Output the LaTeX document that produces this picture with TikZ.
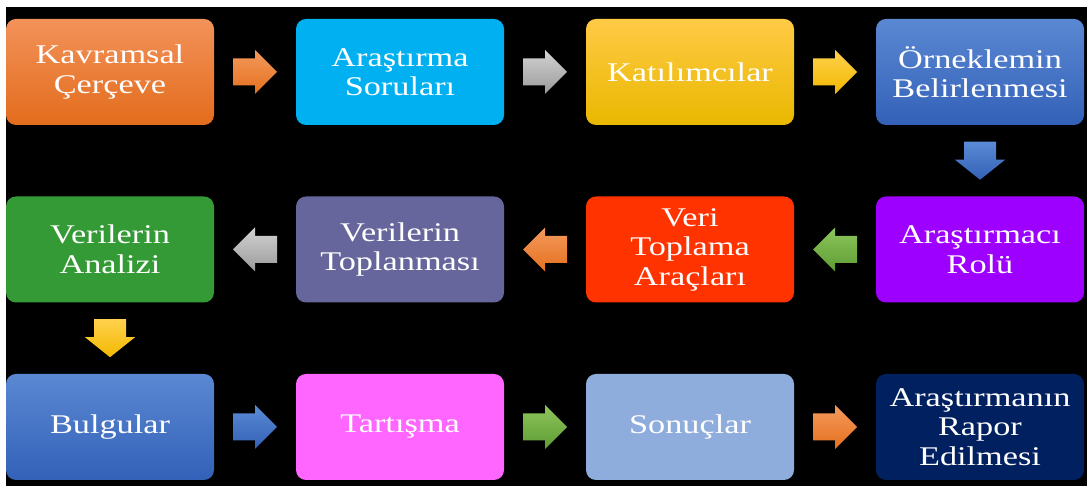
\documentclass[tikz,border=0pt]{standalone}
\usepackage{fontspec}
\setmainfont{Liberation Serif}[FakeStretch=1.27]
\usetikzlibrary{positioning, calc}

% box colours
\definecolor{kavramtop}{HTML}{F2925A}
\definecolor{kavrambot}{HTML}{E36C1C}
\definecolor{soru}{HTML}{00B0F0}
\definecolor{katiltop}{HTML}{FFCA45}
\definecolor{katilbot}{HTML}{E9B800}
\definecolor{mavitop}{HTML}{5B88D2}
\definecolor{mavibot}{HTML}{3361B8}
\definecolor{mor}{HTML}{9D00FF}
\definecolor{kirmizi}{HTML}{FF3300}
\definecolor{gri}{HTML}{66669C}
\definecolor{yesil}{HTML}{339A35}
\definecolor{pembe}{HTML}{FF66FF}
\definecolor{acikmavi}{HTML}{8FADDC}
\definecolor{lacivert}{HTML}{002060}

\tikzset{
  box/.style={rounded corners=10pt, minimum width=208pt, minimum height=106pt,
    inner sep=0pt, text=white, align=center, font=\fontsize{27}{29.5}\selectfont},
  arrorange/.style={top color=F39A5C, bottom color=E5701F},
  arrgray/.style={top color=D2D2D2, bottom color=9A9A9A},
  arrgold/.style={top color=FFD24D, bottom color=F2B800},
  arrblue/.style={top color=5B8BD6, bottom color=3360B5},
  arrgreen/.style={top color=8DC55A, bottom color=5E9C35},
  pics/harrow/.style={code={
    \shade[#1] (-22,-13.5) -- (0,-13.5) -- (0,-22) -- (22,0) -- (0,22) -- (0,13.5) -- (-22,13.5) -- cycle;}},
  pics/varrow/.style={code={
    \shade[#1] (-16,19) -- (16,19) -- (16,1) -- (25,1) -- (0,-19) -- (-25,1) -- (-16,1) -- cycle;}},
}
\definecolor{F39A5C}{HTML}{F39A5C}
\definecolor{E5701F}{HTML}{E5701F}
\definecolor{D2D2D2}{HTML}{D2D2D2}
\definecolor{9A9A9A}{HTML}{9A9A9A}
\definecolor{FFD24D}{HTML}{FFD24D}
\definecolor{F2B800}{HTML}{F2B800}
\definecolor{5B8BD6}{HTML}{5B8BD6}
\definecolor{3360B5}{HTML}{3360B5}
\definecolor{8DC55A}{HTML}{8DC55A}
\definecolor{5E9C35}{HTML}{5E9C35}

\begin{document}
\begin{tikzpicture}[x=1pt, y=1pt, on grid, node distance=177.5pt and 290pt]
  % canvas
  \useasboundingbox (0,0) rectangle (1089,486);
  \fill[white] (0,0) rectangle (1089,486);
  \fill[black] (6,0) rectangle (1087,479);

  % Top row
  \node[box, top color=kavramtop, bottom color=kavrambot] (kavram) at (110,414) {Kavramsal\\Çerçeve};
  \node[box, fill=soru, right=of kavram] (soru) {Araştırma\\Soruları};
  \node[box, top color=katiltop, bottom color=katilbot, right=of soru] (katil) {Katılımcılar};
  \node[box, top color=mavitop, bottom color=mavibot, right=of katil] (orneklem) {Örneklemin\\Belirlenmesi};

  % Middle row (right to left)
  \node[box, fill=mor, below=of orneklem] (rol) {Araştırmacı\\Rolü};
  \node[box, fill=kirmizi, left=of rol] (arac) {Veri\\Toplama\\Araçları};
  \node[box, fill=gri, left=of arac] (topla) {Verilerin\\Toplanması};
  \node[box, fill=yesil, left=of topla] (analiz) {Verilerin\\Analizi};

  % Bottom row
  \node[box, top color=mavitop, bottom color=mavibot, below=of analiz] (bulgu) {Bulgular};
  \node[box, fill=pembe, right=of bulgu] (tartis) {Tartışma};
  \node[box, fill=acikmavi, right=of tartis] (sonuc) {Sonuçlar};
  \node[box, fill=lacivert, right=of sonuc] (rapor) {Araştırmanın\\Rapor\\Edilmesi};

  % Block arrows
  \pic at ($(kavram)!0.5!(soru)$) {harrow=arrorange};
  \pic at ($(soru)!0.5!(katil)$) {harrow=arrgray};
  \pic at ($(katil)!0.5!(orneklem)$) {harrow=arrgold};
  \pic at ($(orneklem)!0.5!(rol)$) {varrow=arrblue};
  \pic[xscale=-1] at ($(rol)!0.5!(arac)$) {harrow=arrgreen};
  \pic[xscale=-1] at ($(arac)!0.5!(topla)$) {harrow=arrorange};
  \pic[xscale=-1] at ($(topla)!0.5!(analiz)$) {harrow=arrgray};
  \pic at ($(analiz)!0.5!(bulgu)$) {varrow=arrgold};
  \pic at ($(bulgu)!0.5!(tartis)$) {harrow=arrblue};
  \pic at ($(tartis)!0.5!(sonuc)$) {harrow=arrgreen};
  \pic at ($(sonuc)!0.5!(rapor)$) {harrow=arrorange};
\end{tikzpicture}
\end{document}
